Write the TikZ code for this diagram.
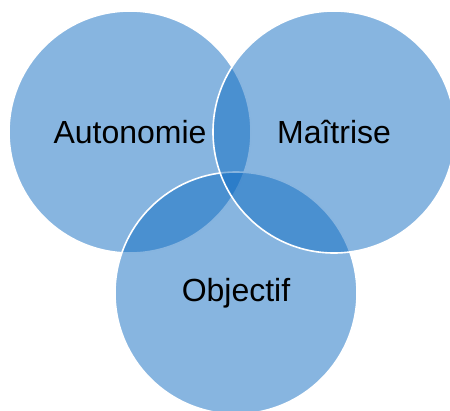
\documentclass[tikz,border=0pt]{standalone}
\usepackage{fontspec}
\setmainfont{Liberation Sans}
\usepackage{tikz}
\usetikzlibrary{positioning}
\definecolor{vennBlue}{HTML}{0F6BC1}

\begin{document}
\begin{tikzpicture}[x=1pt,y=-1pt,
    cercle/.style={circle,fill=vennBlue,fill opacity=0.5,text opacity=1,
                   draw=white,line width=1.6pt,minimum size=242pt,inner sep=0pt,
                   font=\fontsize{32}{36}\selectfont}]
    \useasboundingbox (0,0) rectangle (450,410);
    \node[cercle] (autonomie) at (130,132) {Autonomie};
    \node[cercle] (objectif)  at (236,293) {Objectif};
    \node[cercle] (maitrise)  at (334,132) {Maîtrise};
  \end{tikzpicture}
\end{document}
